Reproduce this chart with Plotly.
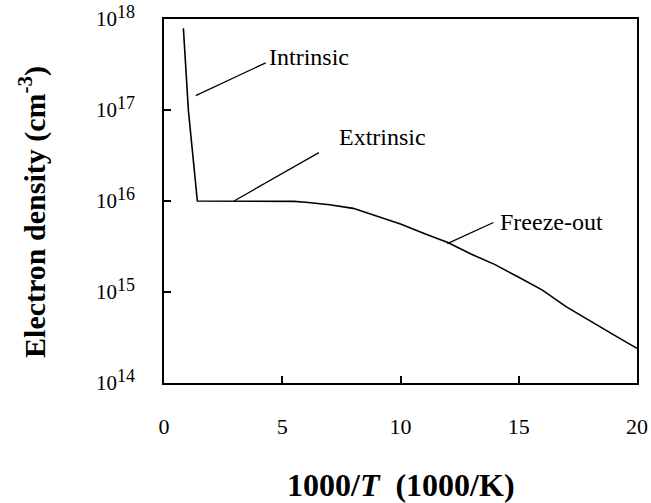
import plotly.graph_objects as go

# Curve data: 1000/T (1000/K) vs electron density (cm^-3)
inv_T = [0.82, 1.03, 1.41, 3.0, 5.0, 5.5, 6.0, 7.0, 8.0, 9.0, 10.0, 11.0, 12.0,
         13.0, 14.0, 15.0, 16.0, 17.0, 18.0, 19.0, 20.0]
density = [7.9e17, 1.0e17, 1.0e16, 1.0e16, 1.0e16, 9.9e15, 9.7e15, 9.1e15, 8.3e15,
           6.8e15, 5.6e15, 4.4e15, 3.5e15, 2.6e15, 2.0e15, 1.45e15, 1.05e15,
           6.9e14, 4.8e14, 3.4e14, 2.4e14]

# Region labels and their leader lines (data coordinates)
labels = ["Intrinsic", "Extrinsic", "Freeze-out"]
label_x = [4.36, 7.31, 14.12]
label_logy = [17.58, 16.70, 15.77]
leader_x = [[1.34, 4.30], [2.96, 6.55], [11.98, 13.93]]
leader_y = [[1.44e17, 3.3e17], [1.0e16, 3.4e16], [3.4e15, 5.8e15]]

x_ticks = [0, 5, 10, 15, 20]
y_ticks = [1e14, 1e15, 1e16, 1e17, 1e18]
y_exponents = ["14", "15", "16", "17", "18"]

FONT = "Liberation Serif"

y_ticktext = ["10<sup><span style='font-size:18px'>%s</span></sup>" % e
              for e in y_exponents]

fig = go.Figure()
fig.add_trace(go.Scatter(x=inv_T, y=density, mode="lines",
                         line=dict(color="black", width=1.6),
                         hoverinfo="skip", showlegend=False))
for lx, ly in zip(leader_x, leader_y):
    fig.add_trace(go.Scatter(x=lx, y=ly, mode="lines",
                             line=dict(color="black", width=1.3),
                             hoverinfo="skip", showlegend=False))

for t, x, y in zip(labels, label_x, label_logy):
    fig.add_annotation(x=x, y=y, xref="x", yref="y", text=t, showarrow=False,
                       xanchor="left", yanchor="middle",
                       font=dict(family=FONT, size=24, color="black"))

fig.add_annotation(x=-0.277, y=0.47, xref="paper", yref="paper",
                   text="<b>Electron density (cm<sup>-3</sup>)</b>",
                   textangle=-90, showarrow=False,
                   xanchor="center", yanchor="middle",
                   font=dict(family=FONT, size=30, color="black"))

fig.add_annotation(x=0.5, y=-0.28, xref="paper", yref="paper",
                   text="<b>1000/<i>T</i>&nbsp; (1000/K)</b>", showarrow=False,
                   xanchor="center", yanchor="middle",
                   font=dict(family=FONT, size=32, color="black"))

fig.update_xaxes(range=[0, 20], tickvals=x_ticks, ticks="inside", ticklen=7,
                 tickwidth=1.5, tickcolor="black", showline=True, linecolor="black",
                 linewidth=1.5, mirror=True, showgrid=False, zeroline=False,
                 tickfont=dict(family=FONT, size=22, color="black"),
                 ticklabelstandoff=23, automargin=False, ticklabeloverflow="allow")
fig.update_yaxes(type="log", range=[14, 18], tickvals=y_ticks, ticktext=y_ticktext,
                 ticks="inside", ticklen=7, tickwidth=1.5, tickcolor="black",
                 showline=True, linecolor="black", linewidth=1.5, mirror=True,
                 showgrid=False, zeroline=False,
                 tickfont=dict(family=FONT, size=21, color="black"),
                 ticklabelstandoff=23, automargin=False, ticklabeloverflow="allow")

fig.update_layout(width=651, height=503,
                  margin=dict(l=164, r=14, t=19, b=120, pad=0),
                  paper_bgcolor="white", plot_bgcolor="white",
                  font=dict(family=FONT, color="black"))

# remove the default page margin so the figure fills the window exactly
fig.write_html("out.html", config={"displayModeBar": False},
               post_script="document.body.style.margin='0';document.body.style.overflow='hidden';")
